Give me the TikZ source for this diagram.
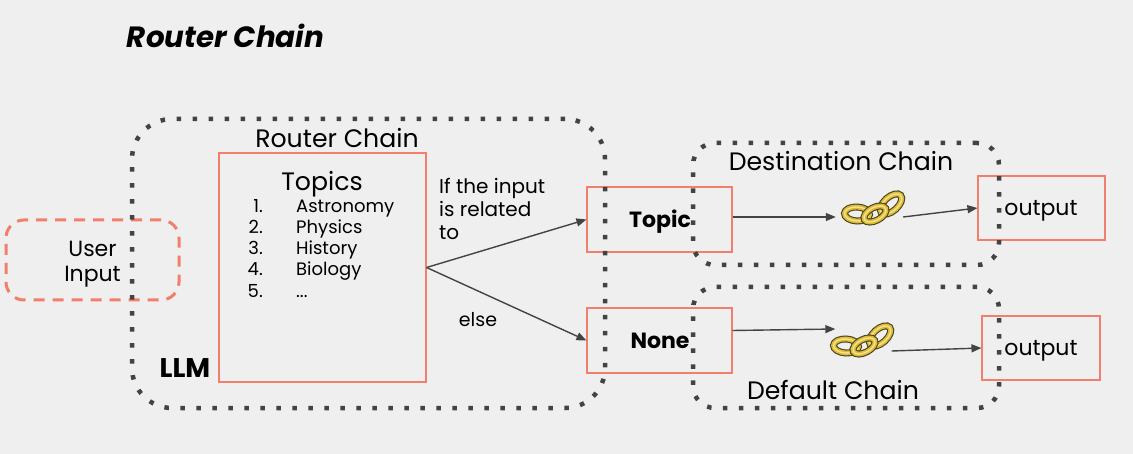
\documentclass[tikz,border=0pt]{standalone}
\usepackage{fontspec}
\setmainfont{Poppins}
\usetikzlibrary{arrows.meta}
\definecolor{bgcol}{HTML}{EFEFEF}
\definecolor{redcol}{HTML}{F27F6B}
\definecolor{dotcol}{HTML}{434343}
\definecolor{linkcol}{HTML}{DDBB35}
\definecolor{linkhi}{HTML}{F3E38F}
\definecolor{linkedge}{HTML}{4A4320}
\tikzset{
  redbox/.style={draw=redcol, line width=1.1pt, inner sep=0pt, fill=none},
  userbox/.style={draw=redcol, line width=3pt, rounded corners=18pt, dash pattern=on 11pt off 8pt, inner sep=0pt, align=center},
  dotbox/.style={draw=dotcol, line width=4.5pt, dash pattern=on 4.5pt off 11.5pt},
  txt/.style={font=\fontsize{22}{25}\selectfont, inner sep=0pt},
  big/.style={font=\fontsize{25.2}{28}\selectfont, inner sep=0pt},
  small/.style={font=\fontsize{18}{23}\selectfont, inner sep=0pt},
  note/.style={font=\fontsize{20}{23}\selectfont, inner sep=0pt},
  strong/.style={font=\fontsize{22}{25}\selectfont\bfseries, inner sep=0pt},
  link/.style={line width=1.4pt, draw=dotcol, -{Triangle[length=10pt,width=8pt]}},
  chainnode/.style={minimum width=#1, minimum height=24pt, inner sep=0pt},
  pics/goldchain/.style={code={
    \foreach \cx/\cy/\rx/\ry/\ang in {-16/6/12.5/7/-3, 18/-4/13/7/42, 2/6/12/6.5/28}{
      \draw[linkedge, line width=7pt] (\cx,\cy) ellipse[x radius=\rx, y radius=\ry, rotate=\ang];
      \draw[linkcol, line width=4.8pt] (\cx,\cy) ellipse[x radius=\rx, y radius=\ry, rotate=\ang];
      \draw[linkhi, line width=1.4pt] (\cx,\cy) ellipse[x radius=\rx, y radius=\ry, rotate=\ang];
    }
  }}
}
\begin{document}
\begin{tikzpicture}[x=1pt,y=-1pt,line cap=butt]
\useasboundingbox (0,0) rectangle (1133,454);
\fill[bgcol] (0,0) rectangle (1133,454);

\node[font=\fontsize{29.3}{32}\selectfont\bfseries\itshape, inner sep=0pt] (title) at (225.5,35.5) {Router Chain};

\node[redbox, minimum width=207pt, minimum height=229pt] (topics) at (322.5,267.5) {};
\node[redbox, minimum width=145pt, minimum height=65pt] (topic) at (659.5,219.5) {};
\node[redbox, minimum width=145pt, minimum height=65pt] (none) at (659.5,340.5) {};
\node[redbox, minimum width=127pt, minimum height=64pt] (outA) at (1041.5,208) {};
\node[redbox, minimum width=118pt, minimum height=64pt] (outB) at (1041,348) {};

\node[userbox, minimum width=173pt, minimum height=80pt] (user) at (92.5,260) {};
\node[txt, align=center] (usertxt) at (92.5,264) {User\\Input};

\node[big] (routerlbl) at (337,138) {Router Chain};
\node[big] (topicslbl) at (322,184) {Topics};
\foreach \i/\y/\name in {1/213/Astronomy, 2/234/Physics, 3/255/History, 4/276/Biology, 5/298/{...}}{
  \node[small, anchor=base east] (num\i) at (263,\y) {\i.};
  \node[small, anchor=base west] (item\i) at (296,\y) {\name};
}
\node[note, align=left, anchor=north west] (iflbl) at (439,178) {If the input\\is related\\to};
\node[font=\fontsize{19}{23}\selectfont, inner sep=0pt] (elselbl) at (478,320) {else};
\node[font=\fontsize{27}{30}\selectfont\bfseries, inner sep=0pt] (llmlbl) at (185,368) {LLM};
\node[strong] (topiclbl) at (660,222) {Topic};
\node[strong] (nonelbl) at (660,341) {None};
\node[txt] (outAlbl) at (1041,211) {output};
\node[txt] (outBlbl) at (1041,351) {output};
\node[big] (destlbl) at (841,161) {Destination Chain};
\node[big] (deflbl) at (833,390) {Default Chain};

\node[dotbox, rounded corners=40pt, minimum width=473pt, minimum height=289pt] (routerbox) at (368.5,263.5) {};
\node[dotbox, rounded corners=22pt, minimum width=306pt, minimum height=122pt] (destbox) at (846,204) {};
\node[dotbox, rounded corners=22pt, minimum width=306pt, minimum height=121pt] (defbox) at (846,347.5) {};

\node[chainnode=67pt] (chainA) at (869.5,217) {};
\node[chainnode=56pt] (chainB) at (863.5,340) {};
\pic at (873,208) {goldchain};
\pic at (862,340) {goldchain};

\draw[link] (topics.east) -- (topic.west);
\draw[link] (topics.east) -- (none.west);
\draw[link] ([yshift=2.5pt]topic.east) -- (chainA.west);
\draw[link] (chainA.east) -- (outA.west);
\draw[link] ([yshift=10pt]none.east) -- ([yshift=11pt]chainB.west);
\draw[link] ([yshift=-11pt]chainB.east) -- (outB.west);
\end{tikzpicture}
\end{document}
